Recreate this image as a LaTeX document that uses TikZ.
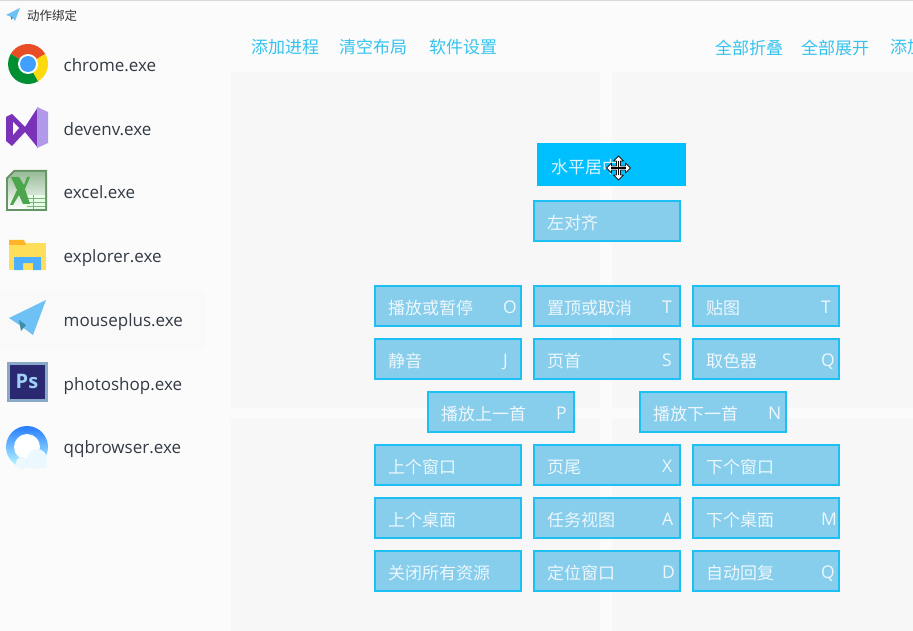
\documentclass[tikz,border=0pt]{standalone}
\usepackage{fontspec}
\setmainfont{Noto Sans CJK SC}
\newfontfamily\latinf{Open Sans}
\definecolor{pagebg}{HTML}{FBFBFB}
\definecolor{panebg}{HTML}{F7F7F7}
\definecolor{gridln}{HTML}{FBFBFB}
\definecolor{btnfill}{HTML}{87CDEC}
\definecolor{btnedge}{HTML}{1EBFF2}
\definecolor{hotfill}{HTML}{00BFFF}
\definecolor{linkc}{HTML}{35C3EE}
\definecolor{exetext}{HTML}{333A44}
\definecolor{planec}{HTML}{6EC1F5}
\definecolor{planed}{HTML}{3F8CA8}
\definecolor{psedge}{HTML}{8AA8C8}
\definecolor{psfill}{HTML}{2A2870}
\definecolor{pstext}{HTML}{9FD0F5}
\tikzset{
  x=1pt,y=-1pt,
  btn/.style={draw=btnedge,line width=2pt,fill=btnfill,minimum width=146pt,minimum height=40pt,inner sep=0pt,outer sep=0pt},
  hot/.style={fill=hotfill,draw=none,minimum width=149pt,minimum height=43pt,inner sep=0pt,outer sep=0pt},
  lbl/.style={text=white,font=\fontsize{17}{19}\selectfont,anchor=west,inner sep=0pt,opacity=.85},
  key/.style={text=white,font=\latinf\fontsize{17.5}{19}\selectfont,anchor=base west,inner sep=0pt,opacity=.85},
  exe/.style={text=exetext,font=\latinf\fontsize{17}{19}\selectfont,anchor=base west,inner sep=0pt},
  link/.style={text=linkc,font=\fontsize{17}{19}\selectfont,anchor=west,inner sep=0pt},
}
\newcommand{\kbtn}[5]{% name, x-left, y-top, label, key
  \node[btn,anchor=north west] (#1) at (#2+1,#3+1) {};
  \node[lbl] (#1l) at (#2+14,#3+23) {#4};
  \node[key] (#1k) at (#2+129,#3+28) {#5};
}
\begin{document}
\begin{tikzpicture}
\useasboundingbox (0,0) rectangle (913,631);
\fill[pagebg] (0,0) rectangle (913,631);
\fill[panebg] (231,72) rectangle (913,631);
\fill[gridln] (600,72) rectangle (612,631);
\fill[gridln] (231,408) rectangle (913,418);
\fill[panebg!60!pagebg] (0,291) rectangle (205,349);
\fill[black!15] (0,0) rectangle (913,1);
% title
\fill[planec] (6,15) -- (20,8) -- (15,21) -- (12,17) -- cycle;
\fill[planed] (10.5,16) -- (13,17.5) -- (11.5,20) -- cycle;
\node[font=\fontsize{12.5}{14}\selectfont,text=black!80,anchor=west,inner sep=0pt] (title) at (27,16) {动作绑定};
% toolbar
\node[link] (t1) at (251,47.5) {添加进程};
\node[link] (t2) at (339,47.5) {清空布局};
\node[link] (t3) at (429,47.5) {软件设置};
\node[link] (t4) at (715,47.5) {全部折叠};
\node[link] (t5) at (801,47.5) {全部展开};
\node[link] (t6) at (890,47.5) {添加};
% exe list
\node[exe] (x1) at (63.5,72) {chrome.exe};
\node[exe] (x2) at (63.5,136) {devenv.exe};
\node[exe] (x3) at (63.5,198.5) {excel.exe};
\node[exe] (x4) at (63.5,262) {explorer.exe};
\node[exe] (x5) at (63.5,326) {mouseplus.exe};
\node[exe] (x6) at (63.5,390) {photoshop.exe};
\node[exe] (x7) at (63.5,453.5) {qqbrowser.exe};
% chrome icon
\fill[red!60!orange!90!black!85] (28,64) -- +(210:20) arc (210:330:20) -- cycle;
\fill[yellow!75!orange!95] (28,64) -- +(330:20) arc (330:420:20) -- cycle;
\fill[green!45!black!80!cyan] (28,64) -- +(60:20) arc (60:210:20) -- cycle;
\fill[white] (28,64) circle (10);
\fill[blue!50!cyan!75] (28,64) circle (8);
% VS icon
\fill[violet!70!blue!80] (6,117) -- (12,114) -- (25,127) -- (38,107) -- (38,148) -- (25,132) -- (12,146) -- (6,141) -- cycle;
\fill[violet!45!blue!40] (37,107) -- (48,112) -- (48,143) -- (37,148) -- cycle;
\fill[pagebg] (13,122) -- (19,128) -- (13,135) -- cycle;
% Excel icon
\fill[green!30!black!60!white] (6,178) -- (14,170) -- (47,170) -- (47,211) -- (6,211) -- cycle;
\shade[top color=green!35!black!40!white,bottom color=white] (8,179) -- (15,172) -- (45,172) -- (45,209) -- (8,209) -- cycle;
\fill[white!90!green] (25,195) rectangle (45,209);
\draw[green!40!black!50,line width=.8pt] (27,198) -- (45,198) (27,202) -- (45,202) (27,206) -- (45,206) (33,195) -- (33,209);
\fill[green!50!black!70] (11,177) -- (19,177) -- (24,185) -- (27,177) -- (30,177) -- (25,189) -- (30,204) -- (23,204) -- (19,195) -- (13,205) -- (10,205) -- (17,190) -- cycle;
% explorer icon
\fill[orange!40!yellow!65] (9,243) -- (46,243) -- (46,270) -- (9,270) -- cycle;
\fill[orange!70!yellow!85] (9,240) -- (24,240) -- (26,245) -- (9,245) -- cycle;
\fill[blue!45!cyan!70] (14,270) -- (14,257) -- (41,257) -- (41,270) -- (33,270) -- (33,263) -- (23,263) -- (23,270) -- cycle;
% mouseplus icon
\fill[planec] (9,318) -- (46,300) -- (33,335) -- (21,326) -- cycle;
\fill[planed] (19,320) -- (26,325) -- (21,331) -- cycle;
% photoshop icon
\fill[psedge] (7,362) rectangle (48,402);
\fill[psfill] (10,365) rectangle (45,399);
\node[font=\latinf\bfseries\fontsize{20}{20}\selectfont,text=pstext,inner sep=0pt] (ps) at (27,381) {Ps};
% qq icon
\shade[top color=cyan!40!blue!85,bottom color=cyan!25!white] (27,447) circle (21);
\fill[white] (27,447) circle (13);
\fill[white!92!cyan] (22,463) circle (6);
\fill[white!92!cyan] (37,459) circle (10);
\fill[white!92!cyan] (18,463) rectangle (47,468);
% buttons
\node[hot,anchor=north west] (hc) at (537,143) {};
\node[lbl] (hcl) at (551,167) {水平居中};
\kbtn{a}{533}{200}{左对齐}{}
\kbtn{b1}{374}{285}{播放或暂停}{O}
\kbtn{b2}{533}{285}{置顶或取消}{T}
\kbtn{b3}{692}{285}{贴图}{T}
\kbtn{c1}{374}{338}{静音}{J}
\kbtn{c2}{533}{338}{页首}{S}
\kbtn{c3}{692}{338}{取色器}{Q}
\kbtn{d1}{427}{391}{播放上一首}{P}
\kbtn{d2}{639}{391}{播放下一首}{N}
\kbtn{e1}{374}{444}{上个窗口}{}
\kbtn{e2}{533}{444}{页尾}{X}
\kbtn{e3}{692}{444}{下个窗口}{}
\kbtn{f1}{374}{497}{上个桌面}{}
\kbtn{f2}{533}{497}{任务视图}{A}
\kbtn{f3}{692}{497}{下个桌面}{M}
\kbtn{g1}{374}{550}{关闭所有资源}{}
\kbtn{g2}{533}{550}{定位窗口}{D}
\kbtn{g3}{692}{550}{自动回复}{Q}
% move cursor
\fill[white,draw=black!90,line width=.8pt,line join=round]
 (618.5,156) -- (623.5,161) -- (620.5,161) -- (620.5,166) -- (625.5,166) -- (625.5,163) -- (630.5,168)
 -- (625.5,173) -- (625.5,170) -- (620.5,170) -- (620.5,175) -- (623.5,175) -- (618.5,180)
 -- (613.5,175) -- (616.5,175) -- (616.5,170) -- (611.5,170) -- (611.5,173) -- (606.5,168)
 -- (611.5,163) -- (611.5,166) -- (616.5,166) -- (616.5,161) -- (613.5,161) -- cycle;
\draw[black,line width=1.2pt] (618.5,161) -- (618.5,175) (611,168) -- (626,168);
\end{tikzpicture}
\end{document}
